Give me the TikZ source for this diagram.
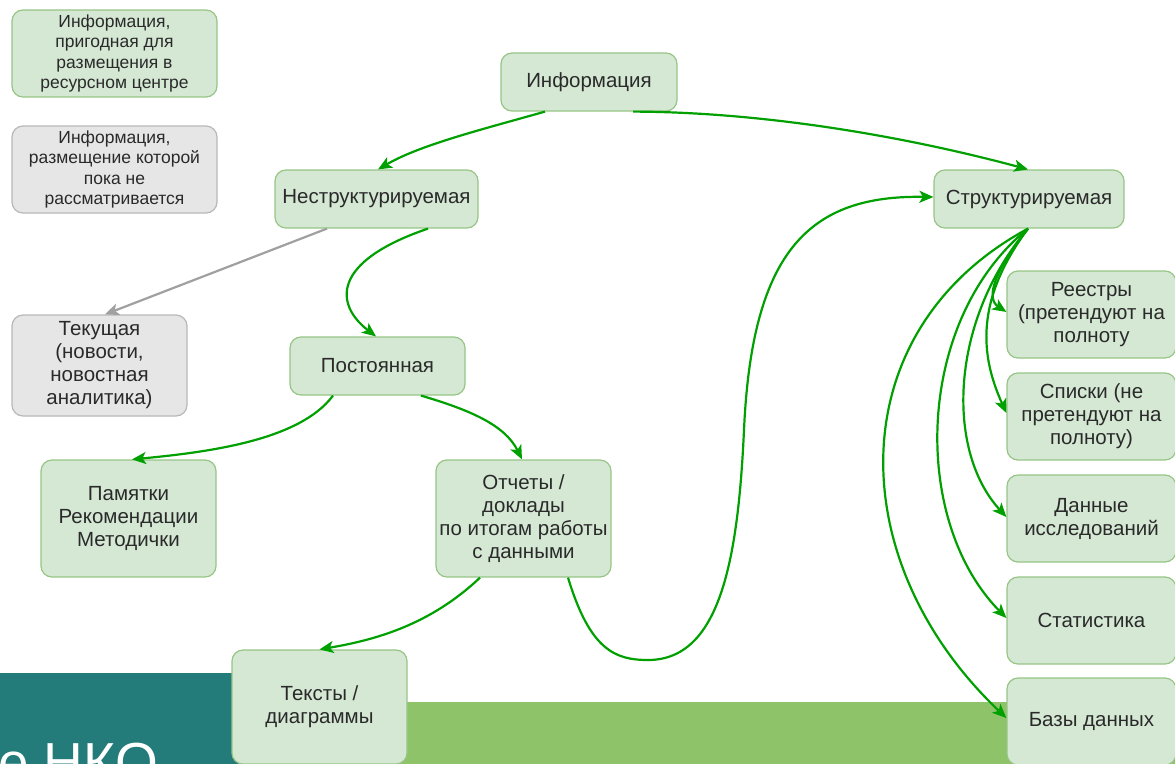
\documentclass[tikz,border=0pt]{standalone}
\usepackage{fontspec}
\setmainfont{Liberation Sans}
\usetikzlibrary{arrows.meta}
\definecolor{gfill}{HTML}{D5E8D4}
\definecolor{gdraw}{HTML}{97C586}
\definecolor{hfill}{HTML}{E6E6E6}
\definecolor{hdraw}{HTML}{B8B8B8}
\definecolor{edgegreen}{HTML}{00A000}
\definecolor{edgegray}{HTML}{A0A0A0}
\definecolor{teal}{HTML}{237B7A}
\definecolor{bandgreen}{HTML}{8FC36A}
\definecolor{txt}{HTML}{2A2A2A}
\tikzset{
  box/.style={draw=gdraw, fill=gfill, line width=1.2pt, rounded corners=11pt,
    align=center, text=txt, inner sep=2pt,
    font=\fontsize{20.5}{23}\selectfont},
  graybox/.style={box, draw=hdraw, fill=hfill},
  legendbox/.style={font=\fontsize{17.5}{20.5}\selectfont},
  conn/.style={draw=edgegreen, line width=2.2pt,
    -{Stealth[length=14pt,width=12pt,inset=3.5pt]}},
  grayconn/.style={conn, draw=edgegray, fill=edgegray},
}
\begin{document}
\begin{tikzpicture}[x=1pt,y=-1pt]
\useasboundingbox (0,0) rectangle (1175,763);
\fill[white] (0,0) rectangle (1175,763);
\begin{scope}
\clip (0,0) rectangle (1175,763);
\fill[teal] (0,673) rectangle (320,770);
\fill[bandgreen] (320,702) rectangle (1180,770);
\node[anchor=base east, inner sep=0pt, text=white,
  font=\fontsize{55}{55}\selectfont] (logo) at (158,781) {е НКО};
\end{scope}

% legend
\node[box, legendbox, minimum width=205pt, minimum height=87pt] (leg1) at (114.5,53.5)
  {Информация,\\пригодная для\\размещения в\\ресурсном центре};
\node[graybox, legendbox, minimum width=205pt, minimum height=87pt] (leg2) at (114.5,169.5)
  {Информация,\\размещение которой\\пока не\\рассматривается};

% main nodes
\node[box, minimum width=176pt, minimum height=58pt] (info) at (589,82) {Информация};
\node[box, minimum width=203pt, minimum height=58pt] (unstr) at (376.5,199) {Неструктурируемая};
\node[box, minimum width=190pt, minimum height=58pt] (str) at (1029,199) {Структурируемая};
\node[graybox, minimum width=175pt, minimum height=101pt] (cur) at (99.5,365.5)
  {Текущая\\(новости,\\новостная\\аналитика)};
\node[box, minimum width=175pt, minimum height=58pt] (perm) at (377.5,366) {Постоянная};
\node[box, minimum width=175pt, minimum height=117pt] (pam) at (128.5,518.5)
  {Памятки\\Рекомендации\\Методички};
\node[box, minimum width=175pt, minimum height=117pt] (rep) at (523.5,518.5)
  {Отчеты /\\доклады\\по итогам работы\\с данными};
\node[box, minimum width=175pt, minimum height=114pt] (texts) at (319.5,707)
  {Тексты /\\диаграммы};
\node[box, minimum width=169pt, minimum height=87pt] (reg) at (1091.5,314.5)
  {Реестры\\(претендуют на\\полноту};
\node[box, minimum width=169pt, minimum height=87pt] (lst) at (1091.5,416.5)
  {Списки (не\\претендуют на\\полноту)};
\node[box, minimum width=169pt, minimum height=87pt] (dat) at (1091.5,518.5)
  {Данные\\исследований};
\node[box, minimum width=169pt, minimum height=87pt] (stat) at (1091.5,620.5)
  {Статистика};
\node[box, minimum width=169pt, minimum height=87pt] (db) at (1091.5,721.5)
  {Базы данных};

% connectors
\draw[conn] ([xshift=-44pt]info.south) .. controls (480,130) and (420,145) .. ([xshift=1.5pt]unstr.north);
\draw[conn] ([xshift=44pt]info.south) .. controls (760,112) and (900,135) .. ([xshift=-1pt]str.north);
\draw[grayconn] ([xshift=-49.5pt]unstr.south) -- ([xshift=5.5pt]cur.north);
\draw[conn] ([xshift=51.5pt]unstr.south) .. controls (330,262) and (335,305) .. ([xshift=-1.5pt]perm.north);
\draw[conn] ([xshift=-44.5pt]perm.south) .. controls (300,440) and (210,452) .. ([xshift=3.5pt]pam.north);
\draw[conn] ([xshift=43.5pt]perm.south) .. controls (470,410) and (505,425) .. ([xshift=-1.5pt]rep.north);
\draw[conn] ([xshift=-43.5pt]rep.south) .. controls (430,625) and (375,640) .. (texts.north);
\draw[conn] ([xshift=44.5pt]rep.south) .. controls (590,650) and (615,660) .. (648,660)
  .. controls (720,660) and (738,560) .. (744,430)
  .. controls (752,250) and (810,195) .. ([yshift=2pt]str.west);
\draw[conn] ([xshift=-1pt]str.south) .. controls (995,270) and (985,298) .. ([yshift=2.5pt]reg.west);
\draw[conn] ([xshift=-1pt]str.south) .. controls (975,300) and (980,355) .. ([yshift=3.5pt]lst.west);
\draw[conn] ([xshift=-1pt]str.south) .. controls (950,320) and (945,450) .. ([yshift=1.5pt]dat.west);
\draw[conn] ([xshift=-1pt]str.south) .. controls (915,320) and (910,520) .. ([yshift=2.5pt]stat.west);
\draw[conn] ([xshift=-1pt]str.south) .. controls (840,330) and (840,560) .. ([yshift=3.5pt]db.west);
\end{tikzpicture}
\end{document}
